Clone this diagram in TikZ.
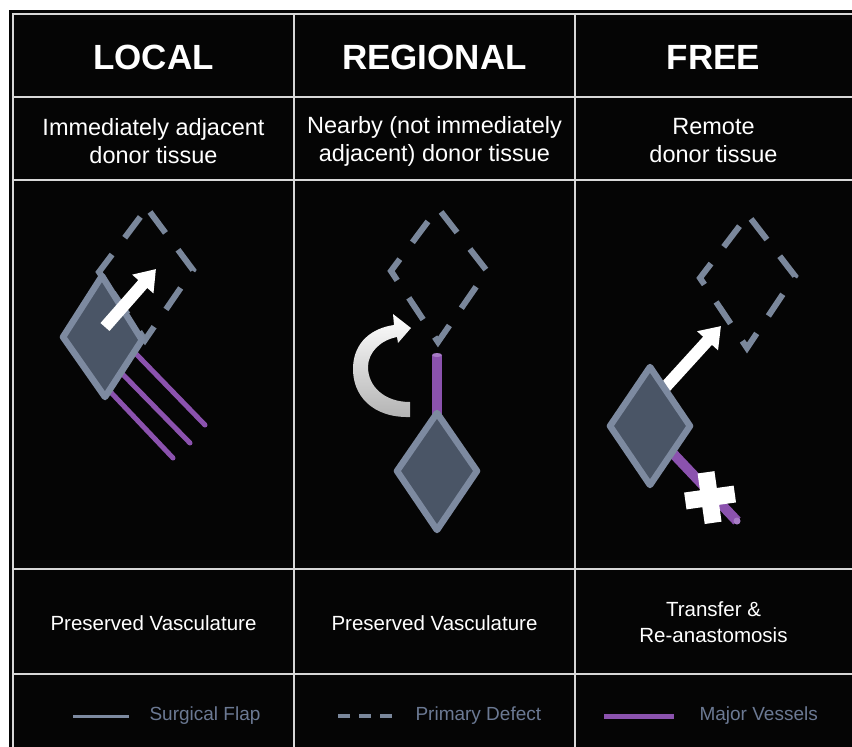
\documentclass[tikz,border=0pt]{standalone}
\usepackage{fontspec}
\setmainfont{Liberation Sans}
\usetikzlibrary{arrows.meta}
\definecolor{flapfill}{HTML}{4A5566}
\definecolor{flapline}{HTML}{7D8AA0}
\definecolor{defect}{HTML}{7A879B}
\definecolor{vessel}{HTML}{8B52AE}
\definecolor{vesseltop}{HTML}{A77CC6}
\definecolor{keytext}{HTML}{6B7993}
\definecolor{gridline}{HTML}{D8D8D8}
\begin{document}
\begin{tikzpicture}[x=1pt,y=-1pt,
  gridrule/.style={gridline,line width=2pt},
  flap/.style={draw=flapline,fill=flapfill,line width=6.5pt,line join=round},
  defectline/.style={defect,line width=6pt,dash pattern=on 26pt off 21pt,dash phase=42pt},
  bigarrow/.style={white,line width=12pt,-{Triangle[width=27pt,length=20pt]}},
  headtext/.style={white,font=\fontsize{35}{42}\selectfont\bfseries},
  subtext/.style={white,align=center,font=\fontsize{23.5}{28}\selectfont},
  foottext/.style={white,align=center,font=\fontsize{20.5}{26}\selectfont},
  keylabel/.style={keytext,anchor=west,font=\fontsize{19}{23}\selectfont}]
%\draw[step=50,gray,very thin] (0,0) grid (852,747); %background grid

%frame
\useasboundingbox (0,0) rectangle (852,747);
\fill[white] (0,0) rectangle (852,747);
\fill[black!98] (9,10) rectangle (852,747);

%table
\draw[gridrule] (13,747) -- (13,14) -- (852,14);
\draw[gridrule] (294,14) -- (294,747);
\draw[gridrule] (575,14) -- (575,747);
\foreach \y in {97,180,569,674}
  \draw[gridrule] (13,\y) -- (852,\y);

%titles
\node[headtext] (local) at (153.5,57) {LOCAL};
\node[headtext] (regional) at (434.5,57) {REGIONAL};
\node[headtext] (free) at (713.5,57) {FREE};

\node[subtext] (localsub) at (153.5,141) {Immediately adjacent\\donor tissue};
\node[subtext] (regionalsub) at (434.5,141) {Nearby (not immediately\\adjacent) donor tissue};
\node[subtext] (freesub) at (713.5,141) {Remote\\donor tissue};

%local
\draw[defectline] (147,208) -- (193,270) -- (145,340) -- (99,272) -- cycle;
\draw[vessel,line width=5pt,line cap=round] (110,327) -- (205,425);
\draw[vessel,line width=5pt,line cap=round] (96,347) -- (190,443);
\draw[vessel,line width=5pt,line cap=round] (85,365) -- (173,458);
\draw[flap] (102,276) -- (142,340) -- (105,397) -- (63,337) -- cycle;
\draw[bigarrow] (105,327) -- (156,269);

%regional
\draw[defectline] (438,208) -- (487,271) -- (438,342) -- (391,271) -- cycle;
\draw[vessel,line width=10pt] (437,355) -- (437,420);
\fill[vesseltop] (437,355) ellipse (5pt and 2pt);
\draw[flap] (437,413) -- (477,471) -- (437,530) -- (397,471) -- cycle;
\fill[top color=white,bottom color=black!30]
  (410,417) .. controls (372,418) and (352,395) .. (353,367)
  .. controls (354,342) and (372,328) .. (394,325)
  -- (393,314) -- (411,328) -- (398,343) -- (397,337)
  .. controls (381,340) and (368,352) .. (368,367)
  .. controls (368,386) and (384,402) .. (410,402) -- cycle;

%free
\draw[defectline] (748,215) -- (795,276) -- (747,348) -- (700,278) -- cycle;
\draw[vessel,line width=10pt] (665,445) -- (737,521);
\fill[vesseltop] (737,521) circle (3.5pt);
\draw[bigarrow] (660,393) -- (721,326);
\draw[flap] (650,367) -- (690,426) -- (650,485) -- (610,426) -- cycle;
\fill[white,rotate around={8:(710,497)}] (685,489) rectangle (735,506) (701,472) rectangle (718,523);

%bottom row
\node[foottext] (localfoot) at (153.5,623) {Preserved Vasculature};
\node[foottext] (regionalfoot) at (434.5,623) {Preserved Vasculature};
\node[foottext] (freefoot) at (713.5,622) {Transfer \&\\Re-anastomosis};

%legend
\draw[flapline,line width=3pt] (73,716) -- (129,716);
\node[keylabel] (flapkey) at (146,716) {Surgical Flap};
\draw[defect,line width=3.5pt,dash pattern=on 12pt off 9pt] (338,716) -- (392,716);
\node[keylabel] (defectkey) at (412,716) {Primary Defect};
\draw[vessel,line width=5pt] (604,716) -- (674,716);
\node[keylabel] (vesselkey) at (696,716) {Major Vessels};

\end{tikzpicture}
\end{document}
